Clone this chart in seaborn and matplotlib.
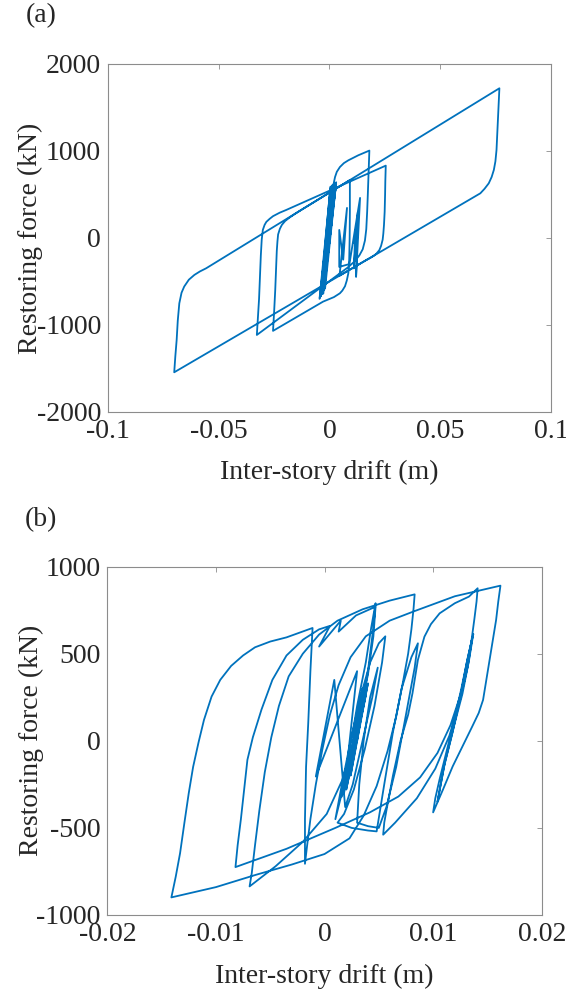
import numpy as np
import pandas as pd
import matplotlib
matplotlib.use("Agg")
import matplotlib.pyplot as plt
import seaborn as sns

# ---------------------------------------------------------------
# Hysteresis data (drift in m, force in kN)
# ---------------------------------------------------------------
# (a) large-amplitude response
drift_a = [
    # small elastic cycles near zero
    0.0, 0.0008, -0.0008, 0.0015, -0.0018, 0.0020, -0.0026, 0.0024, -0.0032, 0.0028,
    -0.0040, 0.0022, -0.0044, 0.0012, -0.0036, 0.0030, -0.0028, 0.0018, -0.0040, 0.0026,
    -0.0022, 0.0010, -0.0034, 0.0005, -0.0045, 0.0016, -0.0030, 0.0028, -0.0038, 0.0008,
    -0.0024, 0.0022, -0.0042, 0.0014, -0.0033, 0.0030, -0.0020, 0.0003, -0.0040, 0.0020,
    # yield to first positive peak
    0.0025, 0.0033, 0.0047, 0.0065, 0.0085, 0.0130, 0.0180,
    # unload, run to first negative peak
    0.0178, 0.0176, 0.0173, 0.0170, 0.0166, 0.0160, 0.0150, 0.0135, 0.0115, 0.0085, -0.0328,
    # reload to second positive peak
    -0.0323, -0.0318, -0.0314, -0.0310, -0.0306, -0.0301, -0.0293, -0.0285, -0.0270, -0.0255,
    -0.0225, -0.0195, 0.0254,
    # unload, run to largest negative peak
    0.0252, 0.0251, 0.0249, 0.0246, 0.0243, 0.0240, 0.0233, 0.0225, 0.0212, 0.0200, 0.0184,
    0.0168, -0.0701,
    # reload along upper branch
    -0.0696, -0.0690, -0.0685, -0.0678, -0.0668, -0.0656, -0.0635, -0.0610, -0.0585, -0.0557,
    0.0092,
    # unload to second negative peak
    0.0092, 0.0091, 0.0089, 0.0085, 0.0078, 0.0070, 0.0058, 0.0047, 0.0020, -0.0029, -0.0255,
    # reload to largest positive peak
    -0.0250, -0.0245, -0.0241, -0.0238, -0.0235, -0.0232, -0.0224, -0.0215, -0.0200, -0.0180,
    -0.0155, -0.0130, 0.0767,
    # unload along lower branch
    0.0764, 0.0761, 0.0757, 0.0754, 0.0749, 0.0742, 0.0732, 0.0719, 0.0700, 0.0681, 0.0045,
    # residual cycles
    0.0079, 0.0062, 0.0044, 0.0044, 0.0090, 0.0138, 0.0120, 0.0128, 0.0110, 0.0117, 0.0112,
]
force_a = [
    0, 150, -220, 320, -400, 450, -520, 540, -600, 590,
    -660, 610, -690, 600, -650, 620, -640, 600, -670, 630,
    -560, 560, -620, 590, -700, 615, -630, 625, -660, 580,
    -600, 630, -680, 610, -640, 640, -580, 560, -665, 640,
    700, 760, 815, 860, 892, 950, 1004,
    850, 700, 500, 300, 100, -30, -130, -200, -265, -335, -1115,
    -900, -700, -450, -200, -20, 92, 150, 185, 220, 250,
    290, 322, 831,
    650, 500, 300, 150, 50, -20, -90, -140, -180, -205, -230,
    -251, -1544,
    -1360, -1172, -950, -751, -630, -559, -480, -425, -385, -349,
    665,
    300, 0, -250, -406, -490, -555, -605, -636, -680, -732, -1068,
    -850, -600, -350, -150, -40, 40, 105, 150, 195, 235,
    278, 318, 1720,
    1560, 1395, 1200, 1011, 880, 782, 700, 628, 565, 513, -435,
    345, -250, 92, -333, -300, 460, -448, 300, -350, 92, -60,
]

# (b) moderate-amplitude response
drift_b = [
    # start
    0.0030, 0.0036, 0.0024, 0.0040, 0.0020, 0.0038, 0.0016,
    0.0022, 0.0030, 0.0038, 0.0043, 0.0047,
    0.0046, 0.0044, 0.0040, 0.0034, 0.0026, 0.0016, 0.0002, -0.0020, -0.0045, -0.0069,
    -0.0067, -0.0064, -0.0060, -0.0055, -0.0049, -0.0042, -0.0033, -0.0020, -0.0005, 0.0012,
    0.0035, 0.0060, 0.0083,
    0.0082, 0.0080, 0.0077, 0.0072, 0.0066, 0.0058, 0.0048, 0.0036, 0.0023, 0.0000, -0.0030,
    -0.0063, -0.0100, -0.0141,
    # largest negative peak, reload
    -0.0137, -0.0133, -0.0129, -0.0125, -0.0121, -0.0116, -0.0111, -0.0104, -0.0096, -0.0086,
    -0.0075, -0.0064, -0.0050, -0.0035, -0.0011,
    -0.0013, -0.0015, -0.0017, -0.0018, -0.0018,
    -0.0016, -0.0013, -0.0008, -0.0002, 0.0005, 0.0013, 0.0024, 0.0038, 0.0060, 0.0083,
    0.0120, 0.0162,
    # largest positive peak, unload
    0.0160, 0.0158, 0.0153, 0.0149, 0.0146, 0.0142, 0.0136, 0.0127, 0.0118, 0.0109, 0.0100,
    0.0102, 0.0106, 0.0110, 0.0118, 0.0126, 0.0132, 0.0137,
    0.0133, 0.0127, 0.0119, 0.0111, 0.0104,
    0.0110, 0.0118, 0.0125, 0.0131, 0.0136,
    0.0132, 0.0125, 0.0115, 0.0102, 0.0085, 0.0065, 0.0054,
    0.0055, 0.0057, 0.0060, 0.0063, 0.0070, 0.0077, 0.0081, 0.0086, 0.0092, 0.0098, 0.0106,
    0.0120, 0.0133, 0.0141,
    0.0140, 0.0138, 0.0135, 0.0131, 0.0125, 0.0116, 0.0104, 0.0088, 0.0068, 0.0042, 0.0010,
    -0.0035, -0.0082,
    -0.0080, -0.0077, -0.0074, -0.0071, -0.0066, -0.0058, -0.0048, -0.0035, -0.0020, -0.0005,
    0.0005,
    -0.0005, 0.0015, 0.0013, 0.0029, 0.0047,
    # cycles around the offset centre
    0.0045, 0.0040, 0.0032, 0.0024, 0.0016, 0.0010,
    0.0016, 0.0024, 0.0033, 0.0042, 0.0050, 0.0056,
    0.0053, 0.0046, 0.0037, 0.0027, 0.0018, 0.0012,
    0.0025, 0.0040, 0.0048,
    0.0055, 0.0063, 0.0071, 0.0080, 0.0086,
    0.0083, 0.0075, 0.0066, 0.0057, 0.0050, 0.0040, 0.0030,
    0.0032, 0.0036, 0.0042, 0.0049,
    0.0044, 0.0035, 0.0026, 0.0019,
    0.0009, -0.0008, 0.0030, 0.0018, 0.0035, 0.0020, 0.0032, 0.0024, 0.0028,
]
force_b = [
    0, 220, -200, 330, -280, 260, -320,
    -100, 200, 450, 650, 790,
    720, 600, 400, 180, -30, -230, -420, -580, -720, -836,
    -760, -600, -400, -180, 20, 200, 370, 500, 610, 690,
    755, 805, 841,
    760, 640, 500, 330, 140, -60, -260, -430, -560, -650, -710,
    -769, -840, -899,
    -780, -645, -470, -300, -150, -9, 120, 254, 350, 430,
    490, 537, 570, 594, 648,
    400, 100, -150, -450, -706,
    -600, -450, -250, -50, 150, 320, 480, 600, 690, 745,
    830, 891,
    800, 694, 503, 350, 235, 160, 82, -33, -147, -281, -411,
    -330, -220, -120, 80, 300, 480, 614,
    460, 270, 80, -120, -350,
    -150, 50, 250, 450, 590,
    430, 240, 30, -160, -330, -470, -539,
    -470, -400, -300, -200, 0, 150, 273, 465, 598, 670, 732,
    790, 828, 876,
    800, 700, 560, 420, 260, 90, -70, -210, -320, -410, -500,
    -620, -725,
    -600, -450, -280, -109, 20, 180, 350, 490, 580, 640,
    660,
    541, 690, 627, 720, 770,
    600, 380, 150, -100, -300, -450,
    -250, 0, 250, 450, 560, 600,
    450, 200, -50, -280, -420, -470,
    -500, -515, -520,
    -250, 50, 300, 480, 560,
    420, 150, -150, -380, -500, -490, -470,
    -250, 0, 250, 420,
    250, 0, -250, -380,
    350, -205, 400, -300, 300, -250, 200, -100, 50,
]

xticks_a = [-0.1, -0.05, 0, 0.05, 0.1]
xtick_labels_a = ["-0.1", "-0.05", "0", "0.05", "0.1"]
yticks_a = [-2000, -1000, 0, 1000, 2000]
xticks_b = [-0.02, -0.01, 0, 0.01, 0.02]
xtick_labels_b = ["-0.02", "-0.01", "0", "0.01", "0.02"]
yticks_b = [-1000, -500, 0, 500, 1000]

LINE = "#0072BD"
BOX = "#8c8c8c"

sns.set_style("white")
plt.rcParams["font.family"] = ["Liberation Serif", "DejaVu Serif"]
plt.rcParams["axes.unicode_minus"] = False


def style_axes(ax, xticks, xlabels, yticks, ylim):
    ax.set_xlim(xticks[0], xticks[-1])
    ax.set_ylim(*ylim)
    ax.set_xticks(xticks)
    ax.set_xticklabels(xlabels)
    ax.set_yticks(yticks)
    ax.set_yticklabels([str(v) for v in yticks])
    ax.tick_params(direction="in", length=3.5, width=0.6, color=BOX,
                   top=True, right=True, labelsize=20, labelcolor="#262626")
    ax.tick_params(axis="x", pad=5)
    ax.tick_params(axis="y", pad=5)
    for sp in ax.spines.values():
        sp.set_visible(True)
        sp.set_color(BOX)
        sp.set_linewidth(0.8)
    ax.set_xlabel("Inter-story drift (m)", fontsize=20, color="#262626", va="center")
    ax.set_ylabel("Restoring force (kN)", fontsize=20, color="#262626", va="center")
    ax.xaxis.set_label_coords(0.5, -0.175)
    ax.yaxis.set_label_coords(-0.175, 0.5)
    if ax.get_legend() is not None:
        ax.get_legend().remove()


fig = plt.figure(figsize=(5.66, 9.91), dpi=100)
ax_a = fig.add_axes([0.1908, 0.5843, 0.7827, 0.3512])
ax_b = fig.add_axes([0.1896, 0.0767, 0.7675, 0.3515])

df_a = pd.DataFrame({"drift": drift_a, "force": force_a})
df_b = pd.DataFrame({"drift": drift_b, "force": force_b})

sns.lineplot(data=df_a, x="drift", y="force", sort=False, estimator=None,
             color=LINE, lw=1.3, ax=ax_a)
sns.lineplot(data=df_b, x="drift", y="force", sort=False, estimator=None,
             color=LINE, lw=1.3, ax=ax_b)

style_axes(ax_a, xticks_a, xtick_labels_a, yticks_a, (-2000, 2000))
style_axes(ax_b, xticks_b, xtick_labels_b, yticks_b, (-1000, 1000))

fig.text(41 / 566, 1 - 16 / 991, "(a)", fontsize=20, ha="center", va="center")
fig.text(41 / 566, 1 - 520 / 991, "(b)", fontsize=20, ha="center", va="center")

fig.savefig("out.png", dpi=100)
plt.close(fig)
